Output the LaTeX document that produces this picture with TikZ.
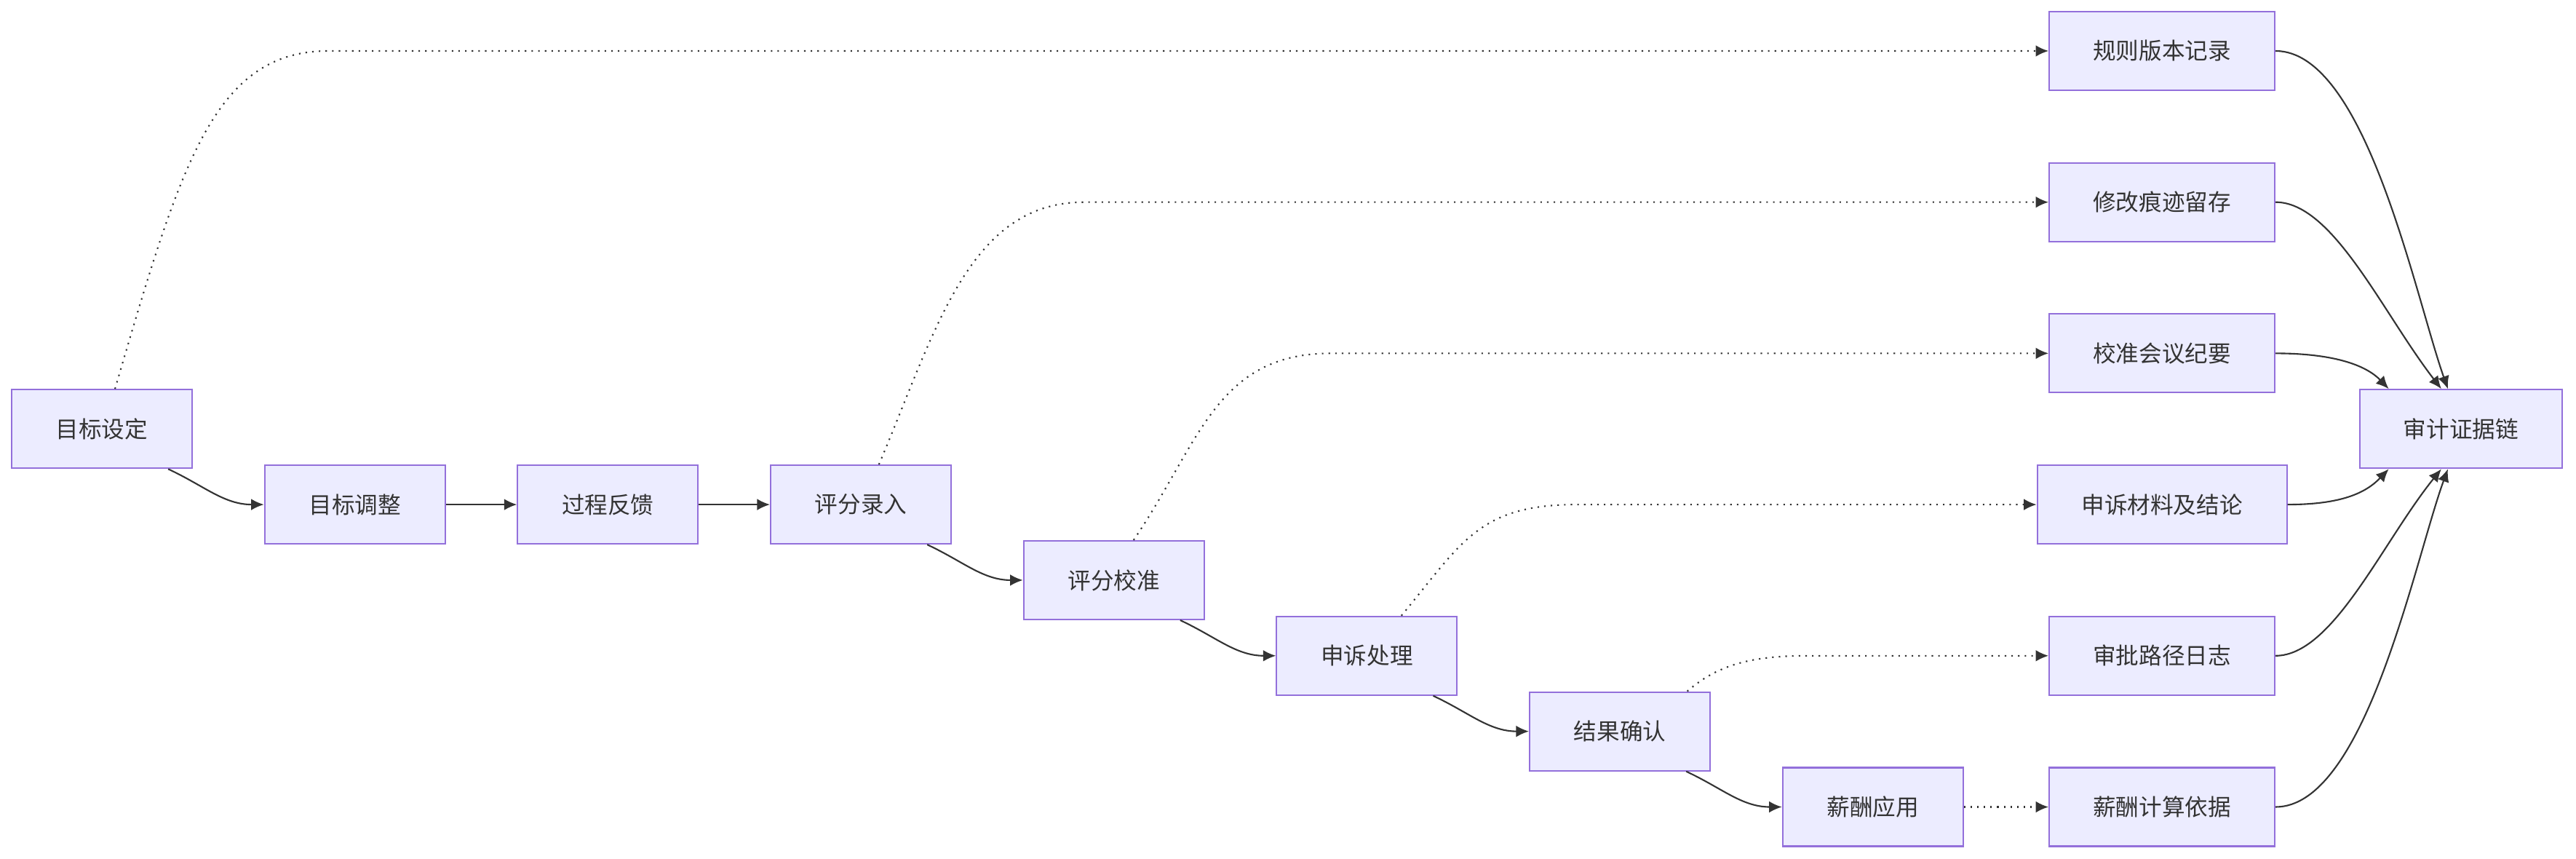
\documentclass[tikz,border=0pt]{standalone}
\usepackage{fontspec}
\setmainfont{Noto Sans CJK SC}
\usetikzlibrary{arrows.meta,calc}
\definecolor{boxfill}{HTML}{ECECFF}
\definecolor{boxline}{HTML}{9370DB}
\definecolor{ink}{HTML}{333333}
\tikzset{
  stage/.style={draw=boxline,fill=boxfill,line width=0.6pt,text=ink,font=\fontsize{9}{11}\selectfont,
    minimum width=2.48cm,minimum height=1.08cm,inner sep=0pt},
  wide/.style={stage,minimum width=3.1cm},
  flow/.style={draw=ink,line width=0.6pt,-{Latex[length=5pt,width=4.5pt]}},
  dep/.style={flow,dotted}
}
\begin{document}
\begin{tikzpicture}[x=0.02258cm,y=-0.02258cm]
\useasboundingbox (0,0) rectangle (1568,522.6);
		\node[stage] (mbsd) at (62,261) {目标设定};
		\node[stage] (mbtz) at (216,307) {目标调整};
		\node[stage] (gcfk) at (370,307) {过程反馈};
		\node[stage] (pflr) at (524,307) {评分录入};
		\node[stage] (pfjz) at (678,353) {评分校准};
		\node[stage] (sscl) at (832,399) {申诉处理};
		\node[stage] (jgqr) at (986,445) {结果确认};
		\node[stage] (xcyy) at (1140,491) {薪酬应用};
		
		\node[wide] (gzbb) at (1316,31) {规则版本记录};
		\node[wide] (xghj) at (1316,123) {修改痕迹留存};
		\node[wide] (jzhy) at (1316,215) {校准会议纪要};
		\node[wide,minimum width=3.43cm] (sscljl) at (1316,307) {申诉材料及结论};
		\node[wide] (splj) at (1316,399) {审批路径日志};
		\node[wide] (xcjs) at (1316,491) {薪酬计算依据};
		\node[stage,minimum width=2.78cm] (sjzj) at (1498,261) {审计证据链};
		
		\draw[flow] ($(mbsd.south east)+(-15,0)$) to[out=-25,in=180] (mbtz.west);
		\draw[flow] (mbtz) -- (gcfk); \draw[flow] (gcfk) -- (pflr);
		\draw[flow] ($(pflr.south east)+(-15,0)$) to[out=-25,in=180] (pfjz.west);
		\draw[flow] ($(pfjz.south east)+(-15,0)$) to[out=-25,in=180] (sscl.west);
		\draw[flow] ($(sscl.south east)+(-15,0)$) to[out=-25,in=180] (jgqr.west);
		\draw[flow] ($(jgqr.south east)+(-15,0)$) to[out=-25,in=180] (xcyy.west);
		
		\draw[dep] ($(mbsd.north)+(8,0)$) .. controls (110,100) and (130,31) .. (200,31) -- (gzbb.west);
		\draw[dep] ($(pflr.north)+(11,0)$) .. controls (570,200) and (590,123) .. (660,123) -- (xghj.west);
		\draw[dep] ($(pfjz.north)+(12,0)$) .. controls (730,270) and (740,215) .. (810,215) -- (jzhy.west);
		\draw[dep] ($(sscl.north)+(21,0)$) .. controls (890,330) and (900,307) .. (960,307) -- (sscljl.west);
		\draw[dep] ($(jgqr.north)+(41,0)$) .. controls (1045,405) and (1065,399) .. (1100,399) -- (splj.west);
		\draw[dep] (xcyy) -- (xcjs);
		
		\draw[flow] (gzbb.east) .. controls (1440,31) and (1470,180) .. ($(sjzj.north)+(-8,0)$);
		\draw[flow] (xghj.east) .. controls (1420,123) and (1450,190) .. ($(sjzj.north)+(-12,0)$);
		\draw[flow] (jzhy.east) .. controls (1420,215) and (1440,222) .. ($(sjzj.north west)+(18,0)$);
		\draw[flow] (sscljl.east) .. controls (1425,307) and (1440,300) .. ($(sjzj.south west)+(18,0)$);
		\draw[flow] (splj.east) .. controls (1420,399) and (1450,330) .. ($(sjzj.south)+(-12,0)$);
		\draw[flow] (xcjs.east) .. controls (1440,491) and (1470,340) .. ($(sjzj.south)+(-8,0)$);
\end{tikzpicture}
\end{document}
